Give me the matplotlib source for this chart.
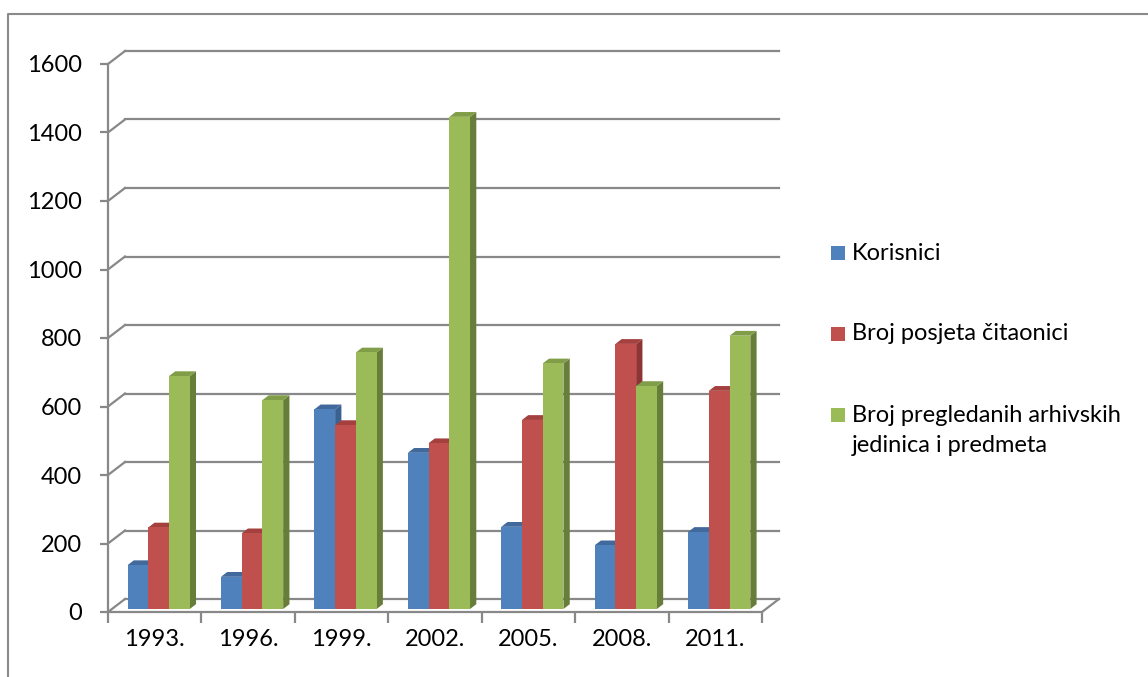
import matplotlib
matplotlib.use('Agg')
import matplotlib.pyplot as plt
from matplotlib.patches import Polygon, Rectangle
from matplotlib.lines import Line2D
from matplotlib.transforms import ScaledTranslation, IdentityTransform
import numpy as np


# Podaci (ocitano sa grafika)
godine = ['1993.', '1996.', '1999.', '2002.', '2005.', '2008.', '2011.']
korisnici = [128, 94, 583, 456, 240, 186, 225]
posjete = [238, 221, 537, 484, 552, 774, 637]
predmeti = [680, 610, 749, 1437, 717, 651, 798]
serije = ['Korisnici', 'Broj posjeta čitaonici',
          ['Broj pregledanih arhivskih', 'jedinica i predmeta']]
yticks = [0, 200, 400, 600, 800, 1000, 1200, 1400, 1600]


plt.rcParams['font.family'] = ['Lato', 'DejaVu Sans']
FS = 17
W, H = 1148, 677
fig = plt.figure(figsize=(W / 100, H / 100), dpi=100)

# Okvir (samo lijevo i gore vidljivo)
fig.add_artist(Line2D([8 / W, 8 / W, 1.0], [0.0, 1 - 14 / H, 1 - 14 / H],
                      transform=fig.transFigure, color='#8a8a8a', lw=1.5))

ax = fig.add_axes([108 / W, (H - 612) / H, (762 - 108) / W, (612 - 64) / H])
ax.set_xlim(-0.5, len(godine) - 0.5)
ax.set_ylim(0, 1600)
ax.set_facecolor('none')

gray = '#888888'
for s in ['top', 'right']:
    ax.spines[s].set_visible(False)
for s in ['left', 'bottom']:
    ax.spines[s].set_color(gray)
    ax.spines[s].set_linewidth(1.6)

# Dubina "3D" u pikselima
DX, DY = 17, 13
back = ax.transData + ScaledTranslation(DX / 100, DY / 100, fig.dpi_scale_trans)

# Mreza na zadnjem zidu + kose linije
for v in yticks:
    ax.plot([-0.5, len(godine) - 0.5], [v, v], color=gray, lw=1.6,
            transform=back, zorder=1, clip_on=False)
    x0, y0 = ax.transData.transform((-0.5, v))
    ax.add_line(Line2D([x0, x0 + DX], [y0, y0 + DY], color=gray, lw=1.6,
                       transform=IdentityTransform(), zorder=1, clip_on=False))
# desna kosa linija poda
x0, y0 = ax.transData.transform((len(godine) - 0.5, 0))
ax.add_line(Line2D([x0, x0 + DX], [y0, y0 + DY], color=gray, lw=1.6,
                   transform=IdentityTransform(), zorder=1, clip_on=False))

# Stupci
boje = [('#4F81BD', '#3A6290', '#41699B'),
        ('#C0504D', '#8E3533', '#A4403E'),
        ('#9BBB59', '#677D3A', '#809E48')]
podaci = [korisnici, posjete, predmeti]
sirina = 0.222
fx, fy = 0.23 * DX, 0.23 * DY      # pomak prednje strane
dx, dy = 0.37 * DX, 0.37 * DY      # dubina stupca
front = ax.transData + ScaledTranslation(fx / 100, fy / 100, fig.dpi_scale_trans)

x = np.arange(len(godine))
for s, vals in enumerate(podaci):
    pos = x + (s - 1) * sirina
    bars = ax.bar(pos, vals, width=sirina, color=boje[s][0], transform=front,
                  zorder=2 + s * 0.1 + 0.02, linewidth=0, clip_on=False)
    for b in bars:
        (X0, Y0) = ax.transData.transform((b.get_x(), 0)) + [fx, fy]
        (X1, Yh) = ax.transData.transform((b.get_x() + b.get_width(), b.get_height())) + [fx, fy]
        side = [(X1, Y0), (X1 + dx, Y0 + dy), (X1 + dx, Yh + dy), (X1, Yh)]
        top = [(X0, Yh), (X1, Yh), (X1 + dx, Yh + dy), (X0 + dx, Yh + dy)]
        ax.add_patch(Polygon(side, closed=True, facecolor=boje[s][1], lw=0, clip_on=False,
                             transform=IdentityTransform(), zorder=2 + s * 0.1))
        ax.add_patch(Polygon(top, closed=True, facecolor=boje[s][2], lw=0, clip_on=False,
                             transform=IdentityTransform(), zorder=2 + s * 0.1 + 0.01))

# Osi i oznake
ax.set_yticks(yticks)
ax.tick_params(axis='y', length=6, width=1.6, color=gray, labelsize=FS, pad=13)
ax.set_xticks(np.arange(len(godine) + 1) - 0.5)
ax.set_xticklabels([])
ax.set_xticks(x, minor=True)
ax.set_xticklabels(godine, minor=True)
ax.tick_params(axis='x', which='major', length=8, width=1.6, color=gray)
ax.tick_params(axis='x', which='minor', length=0, labelsize=FS, pad=12)

# Legenda
leg_y = [253, 334, 415]
for s, yy in enumerate(leg_y):
    fig.add_artist(Rectangle((831 / W, (H - yy - 7) / H), 14 / W, 14 / H,
                             transform=fig.transFigure, facecolor=boje[s][0], lw=0))
fig.text(852 / W, (H - 253) / H, serije[0], fontsize=FS, va='center')
fig.text(852 / W, (H - 334) / H, serije[1], fontsize=FS, va='center')
fig.text(852 / W, (H - 415) / H, serije[2][0], fontsize=FS, va='center')
fig.text(852 / W, (H - 446) / H, serije[2][1], fontsize=FS, va='center')

fig.savefig('out.png', dpi=100)
